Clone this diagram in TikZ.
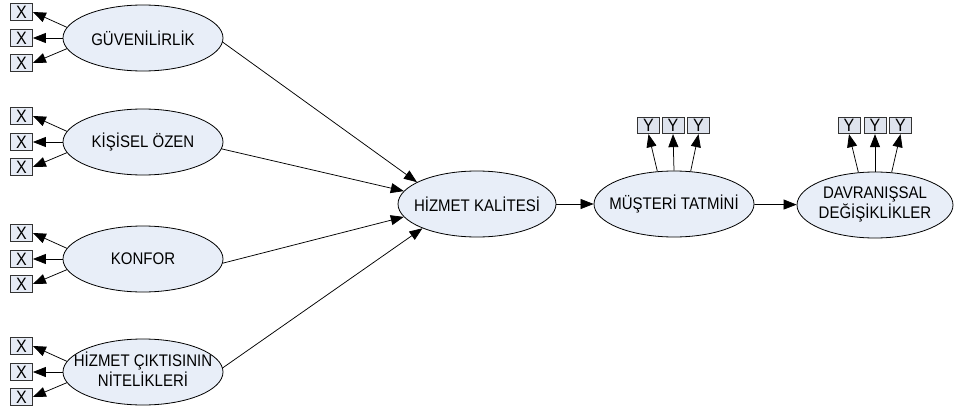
\documentclass[tikz,border=0pt]{standalone}
\usepackage{fontspec}
\usepackage{graphicx}
\setmainfont{Liberation Sans}
\usetikzlibrary{arrows.meta,shapes.geometric}
\definecolor{ellfill}{HTML}{E8EEF8}
\definecolor{xfill}{HTML}{E6EBF5}
\definecolor{yfill}{HTML}{DEE3ED}
\definecolor{edgegray}{HTML}{333333}
% centred, slightly tall text that does not widen the ellipse
\newcommand{\tall}[1]{\scalebox{1}[1.12]{#1}}
\newcommand{\ctext}[1]{\makebox[0pt]{\tall{#1}}}
\newcommand{\ctwo}[2]{\makebox[0pt]{\begin{tabular}{@{}c@{}}\tall{#1}\\\tall{#2}\end{tabular}}}

\begin{document}
\begin{tikzpicture}[x=1pt,y=-1pt,
  every node/.style={font=\fontsize{15}{18.5}\selectfont},
  latent/.style={ellipse, draw=black, fill=ellfill, line width=0.8pt,
    minimum width=160pt, minimum height=66pt, inner sep=0pt},
  xbox/.style={rectangle, draw=edgegray, fill=xfill, line width=0.8pt,
    minimum width=22pt, minimum height=16.5pt, inner sep=0pt,
    font=\fontsize{16}{18}\selectfont},
  ybox/.style={xbox, fill=yfill},
  link/.style={-{Triangle[length=13pt,width=10pt]}, line width=0.75pt}
]
\useasboundingbox (0,0) rectangle (957,417);

% exogenous constructs
\node[latent] (guv) at (143,38)  {\ctext{GÜVENİLİRLİK}};
\node[latent] (kis) at (143,142) {\ctext{KİŞİSEL ÖZEN}};
\node[latent] (kon) at (143,259) {\ctext{KONFOR}};
\node[latent] (cik) at (143,372) {\ctwo{HİZMET ÇIKTISININ}{NİTELİKLERİ}};

% endogenous constructs
\node[latent, minimum width=158pt] (hk)  at (477,204) {\ctext{HİZMET KALİTESİ}};
\node[latent] (mus) at (674,204) {\ctext{MÜŞTERİ TATMİNİ}};
\node[latent, minimum width=156pt] (dav) at (875,205) {\ctwo{DAVRANIŞSAL}{DEĞİŞİKLİKLER}};

% X indicators
\foreach \e/\cy in {guv/38, kis/142, kon/259, cik/372}{
  \node[xbox] (\e x1) at (21.5,\cy-26) {\tall{X}};
  \node[xbox] (\e x2) at (21.5,\cy)    {\tall{X}};
  \node[xbox] (\e x3) at (21.5,\cy+25) {\tall{X}};
  \draw[link] (\e.172) -- (\e x1.east);
  \draw[link] (\e.180) -- (\e x2.east);
  \draw[link] (\e.188) -- (\e x3.east);
}

% Y indicators
\node[ybox] (musy1) at (648.5,125.5) {\tall{Y}};
\node[ybox] (musy2) at (673,125.5)   {\tall{Y}};
\node[ybox] (musy3) at (698.5,125.5) {\tall{Y}};
\node[ybox] (davy1) at (849,125.5)   {\tall{Y}};
\node[ybox] (davy2) at (875,125.5)   {\tall{Y}};
\node[ybox] (davy3) at (900.5,125.5) {\tall{Y}};
\foreach \e in {mus, dav}{
  \draw[link] (\e.117) -- (\e y1.south);
  \draw[link] (\e.90)  -- (\e y2.south);
  \draw[link] (\e.63)  -- (\e y3.south);
}

% structural paths
\draw[link] (guv.-3) -- (hk.160);
\draw[link] (kis.-5) -- (hk.170);
\draw[link] (kon.-3) -- (hk.190);
\draw[link] (cik.3)  -- (hk.204);
\draw[link] (hk) -- (mus);
\draw[link] (mus) -- (dav);
\end{tikzpicture}
\end{document}
